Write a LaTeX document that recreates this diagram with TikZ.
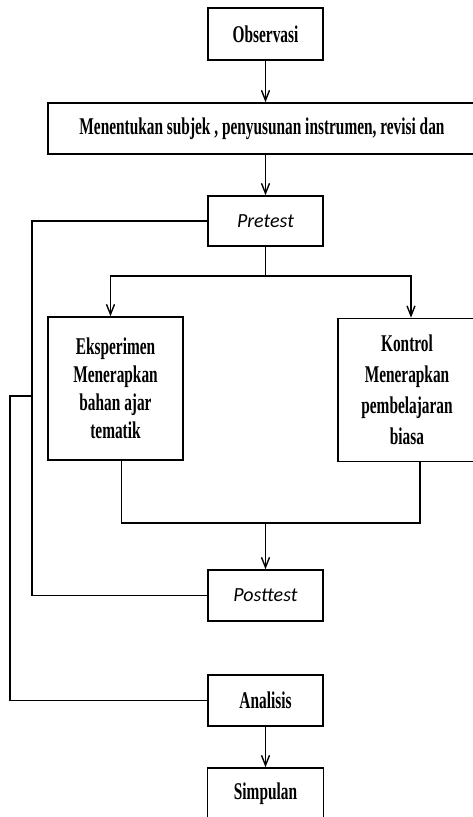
\documentclass[tikz,border=0pt]{standalone}
\usepackage{fontspec}
\setmainfont{Liberation Serif}[FakeStretch=0.64]
\newfontfamily\testfont{Carlito}
\usepackage{tikz}
\usetikzlibrary{arrows.meta}

\tikzset{
    box/.style={draw, line width=1.6pt, inner sep=0pt, align=center,
        font=\fontsize{24}{28}\selectfont\bfseries},
    testbox/.style={box, font=\fontsize{20}{22}\selectfont\testfont\itshape},
    flow/.style={line width=1.6pt, -{Straight Barb[length=10pt,width=8pt,line width=1.4pt]}},
    line/.style={line width=1.6pt}
}

\begin{document}
\begin{tikzpicture}[x=1pt, y=-1pt]
                \useasboundingbox (0,0) rectangle (473,817);
                \clip (0,0) rectangle (473,817);
                % Nodes
                \node[box, minimum width=115, minimum height=52] (obs) at (265.5,34) {Observasi};
                \node[box, minimum width=428, minimum height=51] (subjek) at (262,128.5) {Menentukan subjek , penyusunan instrumen, revisi dan};
                \node[testbox, minimum width=115, minimum height=50] (pre) at (265.5,221) {Pretest};
                \node[box, minimum width=135, minimum height=143] (eks) at (115.5,388.5) {Eksperimen\\Menerapkan\\bahan ajar\\tematik};
                \node[box, minimum width=138, minimum height=143, font=\fontsize{24}{31}\selectfont\bfseries] (kon) at (407,390) {Kontrol\\Menerapkan\\pembelajaran\\biasa};
                \node[testbox, minimum width=115, minimum height=51] (post) at (265.5,595.5) {Posttest};
                \node[box, minimum width=115, minimum height=51] (ana) at (265.5,700.5) {Analisis};
                \node[box, minimum width=116, minimum height=52] (simp) at (265.5,794) {Simpulan};

                \coordinate (split) at (265.5,276);
                \coordinate (join) at (265.5,523);
                \coordinate (loopA) at (32,396);
                \coordinate (loopB) at (10,396);

                % Edges
                \draw[flow] (obs.south) -- (obs.south |- subjek.north);
                \draw[flow] (obs.south |- subjek.south) -- (pre.north);
                \draw[line] (pre.south) -- (split);
                \draw[flow] (split) -| ([xshift=-5]eks.north);
                \draw[flow] (split) -| ([xshift=4]kon.north);
                \draw[line] ([xshift=6]eks.south) |- (join);
                \draw[line] ([xshift=13]kon.south) |- (join);
                \draw[flow] (join) -- (post.north);
                \draw[line] (pre.west) -| (loopA) |- (post.west);
                \draw[line] (loopA) -- (loopB) |- (ana.west);
                \draw[flow] (ana.south) -- (simp.north);
            \end{tikzpicture}
\end{document}
